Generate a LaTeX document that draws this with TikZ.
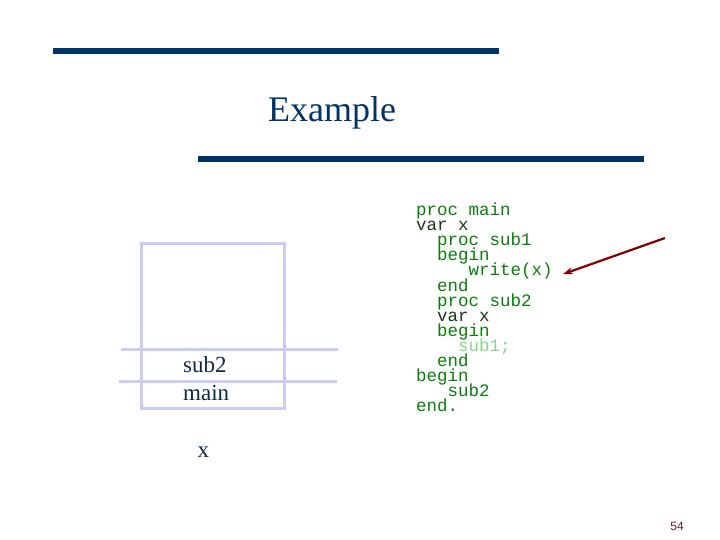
\documentclass[tikz,border=0pt]{standalone}
\usepackage{fontspec}
\setmainfont{Liberation Serif}
\newfontfamily\codefont{Liberation Mono}
\newfontfamily\numfont{Liberation Sans}
\usetikzlibrary{arrows.meta}
\definecolor{navy}{RGB}{0,51,102}
\definecolor{lav}{RGB}{204,204,240}
\definecolor{codegreen}{RGB}{10,125,10}
\definecolor{codedark}{RGB}{25,55,25}
\definecolor{codelight}{RGB}{140,210,140}
\definecolor{arrowred}{RGB}{128,0,0}
\definecolor{numred}{RGB}{90,30,45}
\definecolor{textnavy}{RGB}{15,40,70}
\tikzset{
  bar/.style={line width=6.5pt, navy},
  frame/.style={line width=3.5pt, lav},
  code/.style={anchor=base west, inner sep=0pt, text height=10.5pt, text depth=3pt, font=\codefont\fontsize{17.5}{17.5}\selectfont, text=codegreen},
  stacktext/.style={anchor=base west, inner sep=0pt, font=\fontsize{23}{23}\selectfont, text=textnavy},
  pointer/.style={arrowred, line width=2.2pt, -{Stealth[length=10pt,width=7pt]}}
}
\begin{document}
\begin{tikzpicture}[x=1pt,y=-1pt]
\useasboundingbox (0,0) rectangle (720,540);
% title bars
\draw[bar] (53,51) -- (499,51);
\draw[bar] (198,159) -- (644,159);
\node[font=\fontsize{36}{36}\selectfont, text=navy, inner sep=0pt] (title) at (332,113) {Example};
% stack frame
\draw[frame] (141.5,243.5) rectangle (284.5,408.5);
\draw[frame] (121,349.5) -- (338,349.5);
\draw[frame] (119,381.5) -- (337,381.5);
\node[stacktext] (s2) at (183,372.5) {sub2};
\node[stacktext] (sm) at (183,400.5) {main};
\node[stacktext] (sx) at (197.5,457) {x};
% code
\node[code] (c1) at (416,215.5) {proc main};
\node[code, text=codedark] (c2) at (416,230.6) {var x};
\node[code] (c3) at (416,245.7) {\ \ proc sub1};
\node[code] (c4) at (416,260.8) {\ \ begin};
\node[code] (c5) at (416,275.9) {\ \ \ \ \ write(x)};
\node[code] (c6) at (416,291) {\ \ end};
\node[code] (c7) at (416,306.1) {\ \ proc sub2};
\node[code, text=codedark] (c8) at (416,321.2) {\ \ var x};
\node[code] (c9) at (416,336.3) {\ \ begin};
\node[code, text=codelight] (c10) at (416,351.4) {\ \ \ \ sub1;};
\node[code] (c11) at (416,366.5) {\ \ end};
\node[code] (c12) at (416,381.6) {begin};
\node[code] (c13) at (416,396.7) {\ \ \ sub2};
\node[code] (c14) at (416,411.8) {end.};
% arrow
\coordinate (astart) at (665,238);
\draw[pointer] (astart) -- ([xshift=10pt,yshift=-2pt]c5.east);
% page number
\node[font=\numfont\fontsize{12}{12}\selectfont, text=numred, inner sep=0pt] (pg) at (677,526) {54};
\end{tikzpicture}
\end{document}
